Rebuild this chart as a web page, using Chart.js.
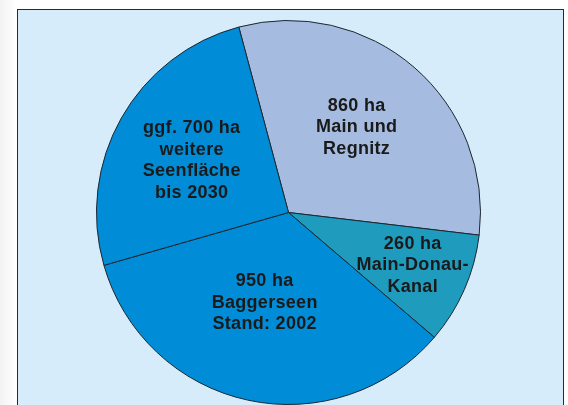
<!DOCTYPE html>
<html>
<head>
<meta charset="utf-8">
<script src="https://cdn.jsdelivr.net/npm/chart.js@4/dist/chart.umd.min.js"></script>
<style>
  html, body { margin: 0; padding: 0; background: #fff; overflow: hidden; }
  #wrap { position: relative; width: 568px; height: 405px; background: linear-gradient(to right, #f2f2f2, #ffffff 16px); }
  #frame { position: absolute; left: 17px; top: 9px; width: 545px; height: 420px;
           border: 1.5px solid #2a2a2a; background: #d6ecfa; }
  #chart { position: absolute; left: 0; top: 0; }
</style>
</head>
<body>
<div id="wrap">
  <div id="frame"></div>
  <canvas id="chart" width="568" height="405"></canvas>
</div>
<script>
const categories = ["Main und Regnitz", "Main-Donau-Kanal", "Baggerseen Stand: 2002", "weitere Seenfläche bis 2030"];
const areaHa = [860, 260, 950, 700];
const sliceColors = ["#a5bce0", "#1f9bbe", "#008cd6", "#008cd6"];
const labelLines = [
  ["860 ha", "Main und", "Regnitz"],
  ["260 ha", "Main-Donau-", "Kanal"],
  ["950 ha", "Baggerseen", "Stand: 2002"],
  ["ggf. 700 ha", "weitere", "Seenfläche", "bis 2030"]
];
// label centre, as a fraction of the outer radius from the pie centre
const labelPos = [[0.354, -0.443], [0.646, 0.276], [-0.125, 0.469], [-0.505, -0.271]];

const sliceLabels = {
  id: "sliceLabels",
  afterDatasetsDraw(chart) {
    const ctx = chart.ctx;
    const arcs = chart.getDatasetMeta(0).data;
    ctx.save();
    ctx.font = "bold 18px 'Liberation Sans', Arial, sans-serif";
    ctx.letterSpacing = "0.3px";
    ctx.fillStyle = "#1a1a1a";
    ctx.textAlign = "center";
    ctx.textBaseline = "middle";
    arcs.forEach((arc, i) => {
      const lines = labelLines[i];
      const cx = arc.x + labelPos[i][0] * arc.outerRadius;
      const cy = arc.y + labelPos[i][1] * arc.outerRadius;
      const lh = 21.5;
      lines.forEach((t, j) => {
        ctx.fillText(t, cx + 0.15, cy + (j - (lines.length - 1) / 2) * lh);
      });
    });
    ctx.restore();
  }
};

new Chart(document.getElementById("chart").getContext("2d"), {
  type: "pie",
  data: {
    labels: categories,
    datasets: [{
      data: areaHa,
      backgroundColor: sliceColors,
      borderColor: "#1b2730",
      borderWidth: 1,
      hoverOffset: 0,
      offset: 0
    }]
  },
  options: {
    responsive: false,
    animation: false,
    events: [],
    rotation: -15,
    layout: { padding: { left: 96, right: 87, top: 20, bottom: 0 } },
    plugins: { legend: { display: false }, tooltip: { enabled: false } }
  },
  plugins: [sliceLabels]
});
</script>
</body>
</html>
